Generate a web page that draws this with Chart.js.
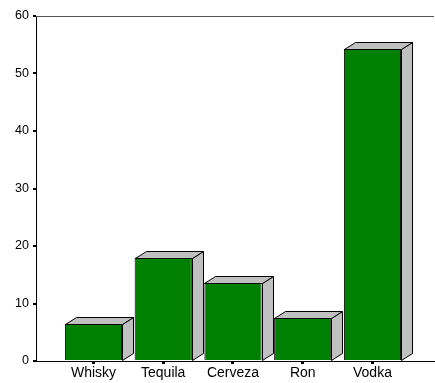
<!DOCTYPE html>
<html>
<head>
<meta charset="utf-8">
<script src="https://cdn.jsdelivr.net/npm/chart.js@4/dist/chart.umd.min.js"></script>
<style>
  html, body { margin: 0; padding: 0; background: #fff; }
  canvas { display: block; }
</style>
</head>
<body>
<canvas id="bars" width="435" height="383"></canvas>
<script>
const categories = ['Whisky', 'Tequila', 'Cerveza', 'Ron', 'Vodka'];
const values = [6.5, 18, 13.6, 7.5, 54.3];
const yTicks = [0, 10, 20, 30, 40, 50, 60];

// fake 3d: top and side faces behind every bar
const depth = { dx: 11, dy: 7 };

const boxFaces = {
  id: 'boxFaces',
  beforeDatasetsDraw(chart) {
    const { ctx, chartArea } = chart;
    ctx.save();
    ctx.strokeStyle = '#555555';
    ctx.lineWidth = 1;
    ctx.beginPath();
    ctx.moveTo(chartArea.left, chartArea.top + 0.5);
    ctx.lineTo(chartArea.right, chartArea.top + 0.5);
    ctx.stroke();
    ctx.restore();
  },
  afterDatasetsDraw(chart) {
    const { ctx } = chart;
    const meta = chart.getDatasetMeta(0);
    ctx.save();
    ctx.fillStyle = '#c0c0c0';
    ctx.strokeStyle = '#000';
    ctx.lineWidth = 1;
    ctx.lineJoin = 'miter';
    meta.data.forEach((bar) => {
      const { x, y, base, width } = bar.getProps(['x', 'y', 'base', 'width'], true);
      const l = Math.round(x - width / 2) + 0.5;
      const r = Math.round(x + width / 2) + 0.5;
      const t = Math.round(y) + 0.5;
      const b = Math.round(base) + 0.5;
      // side
      ctx.beginPath();
      ctx.moveTo(r, t);
      ctx.lineTo(r + depth.dx, t - depth.dy);
      ctx.lineTo(r + depth.dx, b - depth.dy);
      ctx.lineTo(r, b);
      ctx.closePath();
      ctx.fill();
      ctx.stroke();
      // top
      ctx.beginPath();
      ctx.moveTo(l, t);
      ctx.lineTo(l + depth.dx, t - depth.dy);
      ctx.lineTo(r + depth.dx, t - depth.dy);
      ctx.lineTo(r, t);
      ctx.closePath();
      ctx.fill();
      ctx.stroke();
    });
    ctx.restore();
  },
};

const data = {
  datasets: [{
    data: values.map((v, i) => ({ x: i, y: v })),
    backgroundColor: '#008000',
    borderColor: '#000',
    borderWidth: 1,
    barPercentage: 1,
    categoryPercentage: 0.82,
  }],
};

const config = {
  type: 'bar',
  data: data,
  options: {
    responsive: false,
    animation: false,
    layout: { padding: { top: 16, right: 1, left: 0, bottom: 0 } },
    plugins: {
      legend: { display: false },
      tooltip: { enabled: false },
    },
    scales: {
      x: {
        type: 'linear',
        offset: false,
        min: -0.824,
        max: 4.882,
        afterBuildTicks: (scale) => {
          scale.ticks = categories.map((c, i) => ({ value: i }));
        },
        afterFit: (scale) => { scale.height = 22; },
        border: { display: true, color: '#000', width: 1 },
        grid: { offset: false, drawOnChartArea: false, color: '#000', tickLength: 3, lineWidth: 3 },
        ticks: {
          includeBounds: false,
          stepSize: 1,
          padding: 1,
          maxRotation: 0,
          autoSkip: false,
          color: '#000',
          font: { family: 'Liberation Sans, Arial, sans-serif', size: 14 },
          callback: (v) => categories[v] ?? '',
        },
      },
      y: {
        min: 0,
        max: 60,
        afterBuildTicks: (scale) => {
          scale.ticks = yTicks.map((v) => ({ value: v }));
        },
        afterFit: (scale) => { scale.width = 36; },
        border: { display: true, color: '#000', width: 1 },
        grid: { drawOnChartArea: false, color: '#000', tickLength: 3, lineWidth: 2 },
        ticks: {
          padding: 4,
          color: '#000',
          font: { family: 'Liberation Sans, Arial, sans-serif', size: 12.5 },
        },
      },
    },
  },
  plugins: [boxFaces],
};

new Chart(document.getElementById('bars'), config);
</script>
</body>
</html>
